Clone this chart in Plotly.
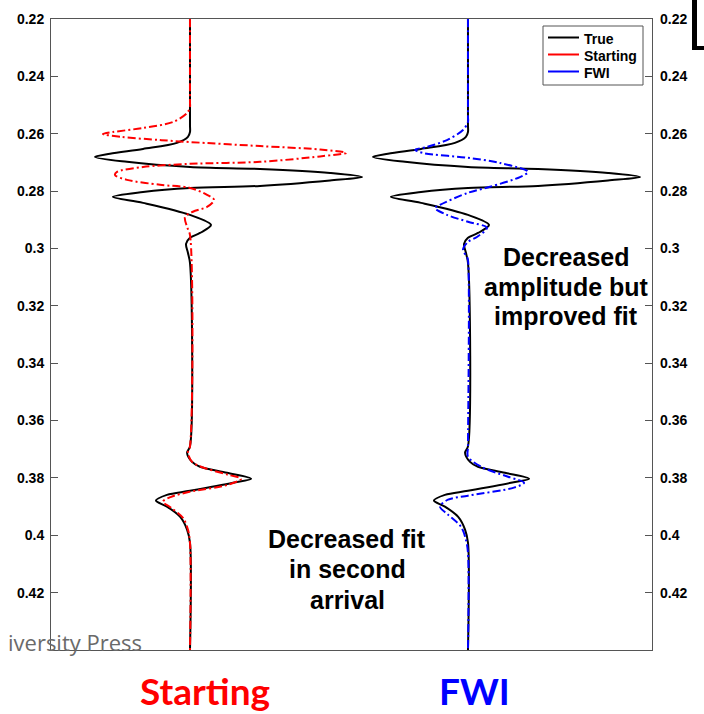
import plotly.graph_objects as go

# Seismic traces: two-way time (s) and normalised amplitude (true peak = 1)
true_t = [0.2200, 0.2570, 0.2594, 0.2611, 0.2632, 0.2653, 0.2670, 0.2681, 0.2698,
          0.2716, 0.2723, 0.2737, 0.2751, 0.2763, 0.2782, 0.2789, 0.2803, 0.2820,
          0.2841, 0.2883, 0.2918, 0.2946, 0.2963, 0.2984, 0.3015, 0.3050, 0.3690,
          0.3712, 0.3744, 0.3761, 0.3782, 0.3803, 0.3817, 0.3845, 0.3859, 0.3879,
          0.3900, 0.3935, 0.3980, 0.4026, 0.4400]
true_amp = [0.0, 0.0, 0.0, -0.012, -0.076, -0.273, -0.465, -0.552, -0.366,
            0.0, 0.407, 0.814, 1.0, 0.814, 0.407, 0.0, -0.273, -0.448,
            -0.273, 0.0, 0.122, 0.058, 0.0, -0.023, -0.012, 0.0, 0.0,
            -0.017, 0.012, 0.058, 0.215, 0.355, 0.25, 0.0, -0.134, -0.198,
            -0.134, -0.058, -0.017, 0.0, 0.0]

start_t = [0.2200, 0.2490, 0.2507, 0.2528, 0.2559, 0.2580, 0.2594, 0.2601, 0.2611,
           0.2622, 0.2629, 0.2643, 0.2655, 0.2667, 0.2679, 0.2698, 0.2705, 0.2716,
           0.2733, 0.2744, 0.2761, 0.2778, 0.2789, 0.2813, 0.2831, 0.2855, 0.2872,
           0.2890, 0.2925, 0.2953, 0.3690, 0.3712, 0.3744, 0.3761, 0.3789, 0.3803,
           0.3824, 0.3848, 0.3866, 0.3883, 0.3904, 0.3939, 0.3980, 0.4026, 0.4400]
start_amp = [0.0, 0.0, 0.0, -0.017, -0.099, -0.273, -0.448, -0.506, -0.40,
             -0.174, 0.0, 0.407, 0.756, 0.907, 0.756, 0.407, 0.0, -0.273,
             -0.424, -0.436, -0.366, -0.174, 0.0, 0.099, 0.14, 0.099, 0.017,
             -0.029, -0.017, 0.0, 0.0, -0.012, 0.012, 0.064, 0.221, 0.297,
             0.221, 0.0, -0.110, -0.157, -0.110, -0.041, -0.012, 0.0, 0.0]

fwi_t = [0.2200, 0.2541, 0.2559, 0.2587, 0.2622, 0.2646, 0.2656, 0.2667, 0.2684,
         0.2702, 0.2733, 0.2751, 0.2785, 0.2806, 0.2848, 0.2859, 0.2883, 0.2907,
         0.2928, 0.2960, 0.2977, 0.3005, 0.3029, 0.3040, 0.3690, 0.3726, 0.3761,
         0.3796, 0.3817, 0.3834, 0.3862, 0.3876, 0.3900, 0.3928, 0.3970, 0.4015,
         0.4061, 0.4400]
fwi_amp = [0.0, 0.0, 0.0, -0.029, -0.122, -0.238, -0.308, -0.262, 0.0,
           0.186, 0.349, 0.302, 0.128, 0.0, -0.163, -0.192, -0.122, 0.0,
           0.110, 0.052, 0.0, -0.029, -0.006, 0.0, 0.0, 0.0, 0.076,
           0.233, 0.326, 0.267, 0.0, -0.116, -0.163, -0.116, -0.041, -0.012,
           0.0, 0.0]

time_ticks = [0.22, 0.24, 0.26, 0.28, 0.30, 0.32, 0.34, 0.36, 0.38, 0.40, 0.42]
time_labels = ["0.22", "0.24", "0.26", "0.28", "0.3", "0.32", "0.34", "0.36",
               "0.38", "0.4", "0.42"]

panel_names = ["Starting", "FWI"]
panel_colors = ["#ff0000", "#0000ff"]
legend_names = ["True", "Starting", "FWI"]
legend_colors = ["#000000", "#ff0000", "#0000ff"]

upper_note = ["Decreased", "amplitude but", "improved fit"]
lower_note = ["Decreased fit", "in second", "arrival"]

GAIN = 0.619          # trace spacing units per unit amplitude
OFFSETS = [1.0, 2.0]  # trace positions
DASHDOT = "8px,3px,2px,3px"

# plot-area geometry in pixels, used to place paper-referenced decorations
L, R, T, B = 51, 652, 19, 650


def px(xp):
    return (xp - L) / (R - L)


def py(yp):
    return 1 - (yp - T) / (B - T)


fig = go.Figure()

model_series = [(start_t, start_amp), (fwi_t, fwi_amp)]
for off, (mt, ma), col in zip(OFFSETS, model_series, panel_colors):
    fig.add_trace(go.Scatter(
        x=[off + GAIN * a for a in true_amp], y=true_t, mode="lines",
        line=dict(color="black", width=2, shape="spline", smoothing=0.9),
        showlegend=False, hoverinfo="skip"))
    fig.add_trace(go.Scatter(
        x=[off + GAIN * a for a in ma], y=mt, mode="lines",
        line=dict(color=col, width=2, dash=DASHDOT, shape="spline", smoothing=0.9),
        showlegend=False, hoverinfo="skip"))

# empty trace so the right-hand time axis is drawn
fig.add_trace(go.Scatter(x=[None], y=[None], yaxis="y2", showlegend=False,
                         hoverinfo="skip"))

axis_col = "#555555"
tick_font = dict(family="Liberation Sans, Arial, sans-serif", size=14,
                 color="black", weight="bold")

fig.update_layout(
    width=704, height=714,
    margin=dict(l=L, r=704 - R, t=T, b=714 - B),
    paper_bgcolor="white", plot_bgcolor="white",
    showlegend=False,
    xaxis=dict(range=[0.5, 2.662], showticklabels=False, ticks="",
               showgrid=False, zeroline=False, showline=True, mirror=True,
               linecolor=axis_col, linewidth=1),
    yaxis=dict(range=[0.44, 0.22], tickvals=time_ticks, ticktext=time_labels,
               ticks="inside", ticklen=7, tickcolor=axis_col, tickwidth=1,
               showgrid=False, zeroline=False, showline=True, mirror=True,
               linecolor=axis_col, linewidth=1, tickfont=tick_font,
               ticklabelstandoff=3),
    yaxis2=dict(range=[0.44, 0.22], overlaying="y", side="right",
                tickvals=time_ticks, ticktext=time_labels,
                ticks="inside", ticklen=7, tickcolor=axis_col, tickwidth=1,
                showgrid=False, zeroline=False, showline=False,
                tickfont=tick_font, ticklabelstandoff=7),
)

# legend box
fig.add_shape(type="rect", xref="paper", yref="paper",
              x0=px(543), x1=px(643), y0=py(85), y1=py(26),
              fillcolor="white", line=dict(color=axis_col, width=1))
leg_font = dict(family="Liberation Sans, Arial, sans-serif", size=14,
                color="black", weight="bold")
for nm, col, ly, ty in zip(legend_names, legend_colors,
                           [37.5, 54.5, 71.5], [38.5, 55.5, 72.5]):
    fig.add_shape(type="line", xref="paper", yref="paper",
                  x0=px(548), x1=px(579), y0=py(ly), y1=py(ly),
                  line=dict(color=col, width=2))
    fig.add_annotation(text=nm, xref="paper", yref="paper", x=px(582), y=py(ty),
                       xanchor="left", yanchor="middle", showarrow=False,
                       font=leg_font)

note_font = dict(family="Liberation Sans, Arial, sans-serif", size=25,
                 color="black", weight="bold")
for txt, yp in zip(upper_note, [257, 287, 316]):
    fig.add_annotation(text=txt, xref="paper", yref="paper", x=px(566), y=py(yp),
                       xanchor="center", yanchor="middle", showarrow=False,
                       font=note_font)
for txt, yp in zip(lower_note, [539, 569, 600]):
    fig.add_annotation(text=txt, xref="paper", yref="paper", x=px(347), y=py(yp),
                       xanchor="center", yanchor="middle", showarrow=False,
                       font=note_font)

# panel captions below the axes
for name, col, xc in zip(panel_names, panel_colors, [205, 474]):
    fig.add_annotation(text=name, xref="paper", yref="paper", x=px(xc), y=py(690),
                       xanchor="center", yanchor="middle", showarrow=False,
                       font=dict(family="Lato, sans-serif", size=37,
                                 color=col, weight="bold"))

# publisher credit
fig.add_annotation(text="iversity Press", xref="paper", yref="paper",
                   x=px(144), y=py(642), xanchor="right", yanchor="middle",
                   showarrow=False,
                   font=dict(family="Open Sans, sans-serif", size=22,
                             color="#6a6a6a"))

# bracket at the top-right edge
fig.add_shape(type="rect", xref="paper", yref="paper",
              x0=px(692), x1=px(697), y0=py(50), y1=py(0),
              fillcolor="black", line=dict(width=0))
fig.add_shape(type="rect", xref="paper", yref="paper",
              x0=px(692), x1=px(704), y0=py(50), y1=py(46),
              fillcolor="black", line=dict(width=0))

fig.write_html("out.html")
